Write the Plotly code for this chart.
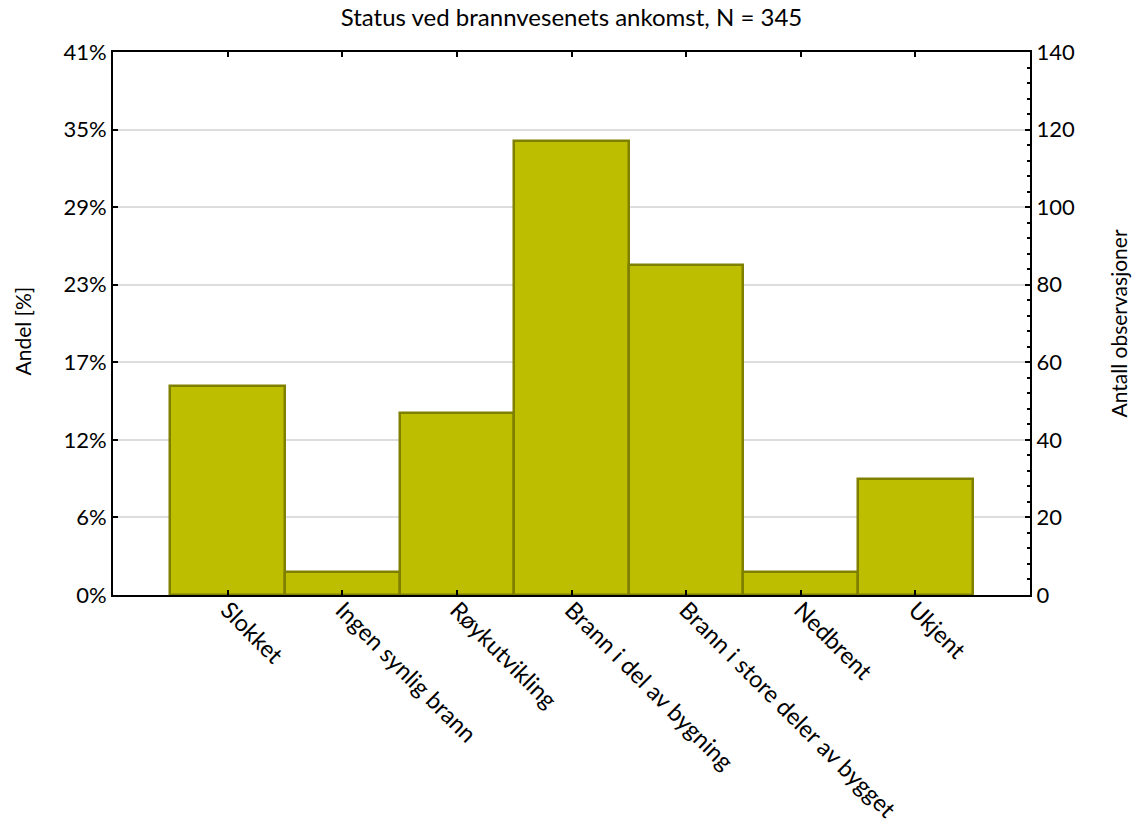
import plotly.graph_objects as go

categories = ["Slokket", "Ingen synlig brann", "Røykutvikling", "Brann i del av bygning",
              "Brann i store deler av bygget", "Nedbrent", "Ukjent"]
counts = [54, 6, 47, 117, 85, 6, 30]
N = 345
count_ticks = [0, 20, 40, 60, 80, 100, 120, 140]
pct_labels = [f"{round(v / N * 100)}%" for v in count_ticks]

xpos = list(range(len(categories)))
FONT = "Lato"

fig = go.Figure()
fig.add_trace(go.Bar(
    x=xpos, y=counts, width=1,
    marker=dict(color="#BEBE00", line=dict(color="#7F7F00", width=2.5)),
    yaxis="y", showlegend=False, hoverinfo="skip",
))
fig.add_trace(go.Scatter(
    x=xpos, y=counts, mode="markers", marker=dict(opacity=0),
    yaxis="y2", showlegend=False, hoverinfo="skip",
))

fig.update_layout(
    width=1134, height=828,
    margin=dict(l=113, r=104, t=52, b=233, autoexpand=False),
    plot_bgcolor="white", paper_bgcolor="white",
    font=dict(family=FONT, size=22, color="black"),
    bargap=0, barmode="overlay",
    title=dict(text="Status ved brannvesenets ankomst, N = 345", x=0.5, xref="paper",
               y=1 - 18 / 828, yanchor="middle", yref="container",
               font=dict(family=FONT, size=24, color="black")),
    xaxis=dict(
        range=[-1, 7], tickvals=xpos, ticktext=categories, tickangle=45,
        showline=True, linecolor="black", linewidth=2, mirror="ticks",
        ticks="inside", ticklen=5, tickwidth=2, tickcolor="black",
        showgrid=False, zeroline=False, tickfont=dict(size=23.5), automargin=False,
        ticklabelstandoff=-10,
    ),
    yaxis=dict(
        range=[0, 140], tickvals=count_ticks, ticktext=pct_labels,
        showline=True, linecolor="black", linewidth=2,
        ticks="inside", ticklen=5, tickwidth=2, tickcolor="black",
        showgrid=True, gridcolor="#DDDDDD", gridwidth=2, zeroline=False,
        tickfont=dict(size=22), automargin=False,
    ),
    yaxis2=dict(
        range=[0, 140], tickvals=count_ticks, overlaying="y", side="right",
        showline=True, linecolor="black", linewidth=2,
        ticks="inside", ticklen=5, tickwidth=2, tickcolor="black",
        minor=dict(dtick=4, tick0=0, ticks="inside", ticklen=3, tickwidth=1.5, tickcolor="black", showgrid=False),
        showgrid=False, zeroline=False, tickfont=dict(size=22), automargin=False,
    ),
    annotations=[
        dict(text="Andel [%]", xref="paper", yref="paper", x=0, y=0.5, xshift=-91, yshift=-8,
             textangle=-90, showarrow=False, font=dict(size=21), xanchor="center", yanchor="middle"),
        dict(text="Antall observasjoner", xref="paper", yref="paper", x=1, y=0.5, xshift=88,
             textangle=-90, showarrow=False, font=dict(size=21), xanchor="center", yanchor="middle"),
    ],
)

fig.write_html("out.html", config={"displayModeBar": False},
               post_script="document.body.style.margin='0';document.body.style.overflow='hidden';")
